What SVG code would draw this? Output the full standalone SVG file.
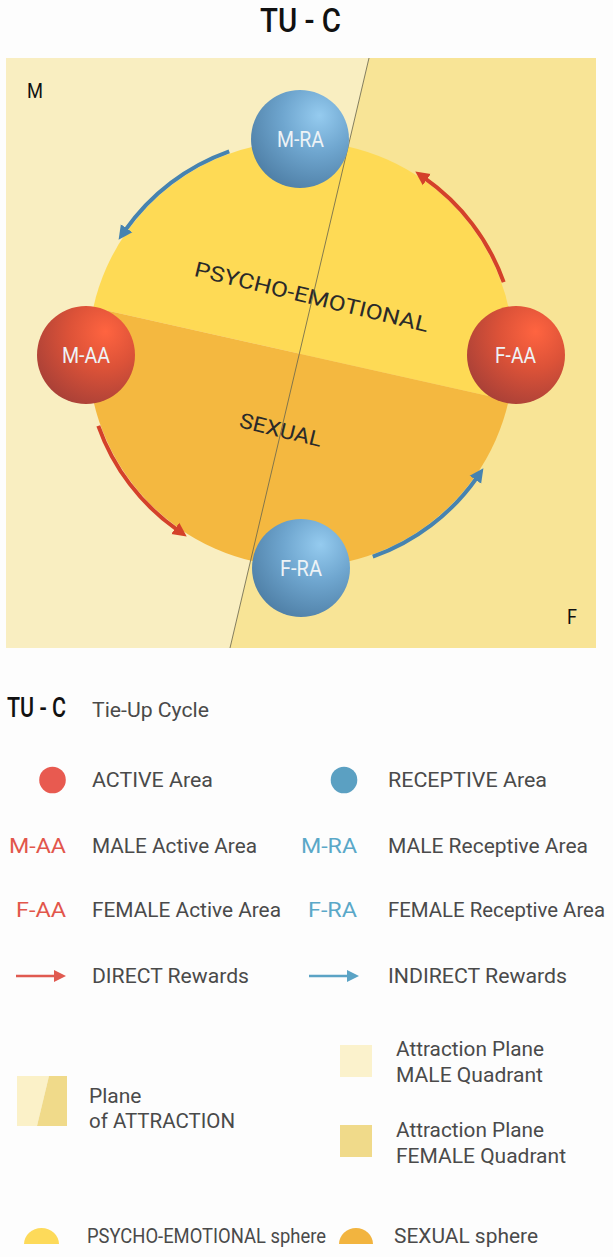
<svg xmlns="http://www.w3.org/2000/svg" width="613" height="1257" viewBox="0 0 613 1257">
<defs>
<radialGradient id="gBlue" cx="0.66" cy="0.3" r="0.8" fx="0.7" fy="0.26">
<stop offset="0" stop-color="#95CBEF"/>
<stop offset="0.45" stop-color="#6FA6CF"/>
<stop offset="1" stop-color="#4C7CA3"/>
</radialGradient>
<radialGradient id="gRed" cx="0.66" cy="0.3" r="0.8" fx="0.7" fy="0.26">
<stop offset="0" stop-color="#FF6440"/>
<stop offset="0.45" stop-color="#DC5238"/>
<stop offset="1" stop-color="#A53F37"/>
</radialGradient>
<marker id="mRed" markerUnits="userSpaceOnUse" markerWidth="16" markerHeight="16" refX="3" refY="7" orient="auto" viewBox="0 0 16 14">
<path d="M0,0 L14,7 L0,14 z" fill="#D4412A"/>
</marker>
<marker id="mBlue" markerUnits="userSpaceOnUse" markerWidth="16" markerHeight="16" refX="3" refY="7" orient="auto" viewBox="0 0 16 14">
<path d="M0,0 L14,7 L0,14 z" fill="#4683B0"/>
</marker>
<style>
.t{font-family:Roboto,"Liberation Sans",sans-serif}
.lg{font-family:Roboto,"Liberation Sans",sans-serif;font-size:21px;fill:#4a4a4a}
.nl{font-family:Roboto,"Liberation Sans",sans-serif;font-size:22px;fill:#EEF3F6;text-anchor:middle}
.arcR{fill:none;stroke:#D4412A;stroke-width:4;marker-end:url(#mRed)}
.arcB{fill:none;stroke:#4683B0;stroke-width:4;marker-end:url(#mBlue)}
.redT{fill:#E2564B}
.bluT{fill:#5AA8C8}
</style>
</defs>
<rect width="613" height="1257" fill="#FDFDFD"/>
<text class="t" x="300.5" y="32" font-size="34" font-weight="500" fill="#111" text-anchor="middle" textLength="81" lengthAdjust="spacingAndGlyphs">TU - C</text>

<g id="plane">
<polygon points="6,58 369,58 230,648 6,648" fill="#F9EEC1"/>
<polygon points="369,58 596,58 596,648 230,648" fill="#F8E496"/>
<text class="t" x="27" y="98" font-size="21" fill="#111" textLength="16" lengthAdjust="spacingAndGlyphs">M</text>
<text class="t" x="567" y="624" font-size="21" fill="#111" textLength="10" lengthAdjust="spacingAndGlyphs">F</text>
</g>

<g id="spheres">
<path d="M93.3,307.4 A210,210 0 0 1 508.7,400.6 Z" fill="#FEDA55" transform="rotate(0)"/>
<path d="M508.7,400.6 A210,210 0 0 1 93.3,307.4 Z" fill="#F4B840"/>
<text class="t" x="310" y="304" font-size="21" fill="#2a2a2a" text-anchor="middle" textLength="240" lengthAdjust="spacingAndGlyphs" transform="rotate(13.6 310 304)">PSYCHO-EMOTIONAL</text>
<text class="t" x="279" y="437" font-size="21" fill="#2a2a2a" text-anchor="middle" textLength="84" lengthAdjust="spacingAndGlyphs" transform="rotate(13.6 279 437)">SEXUAL</text>
</g>

<line x1="369" y1="58" x2="230" y2="648" stroke="#6E6A4E" stroke-width="1" stroke-opacity="0.85"/>

<g id="connectors">
<path class="arcB" d="M229.2,151.3 A215,215 0 0 0 124.9,230.7"/>
<path class="arcR" d="M98.3,425.8 A215,215 0 0 0 177.7,530.1"/>
<path class="arcB" d="M372.8,556.7 A215,215 0 0 0 477.1,477.3"/>
<path class="arcR" d="M503.7,282.2 A215,215 0 0 0 424.3,177.9"/>
</g>

<g id="node-m-ra">
<circle cx="300" cy="139" r="49" fill="url(#gBlue)"/>
<text class="nl" x="300.5" y="147" textLength="47" lengthAdjust="spacingAndGlyphs">M-RA</text>
</g>
<g id="node-m-aa">
<circle cx="86" cy="355" r="49" fill="url(#gRed)"/>
<text class="nl" x="86" y="363" textLength="48" lengthAdjust="spacingAndGlyphs">M-AA</text>
</g>
<g id="node-f-aa">
<circle cx="516" cy="355" r="49" fill="url(#gRed)"/>
<text class="nl" x="515.5" y="363" textLength="41" lengthAdjust="spacingAndGlyphs">F-AA</text>
</g>
<g id="node-f-ra">
<circle cx="301" cy="568" r="49" fill="url(#gBlue)"/>
<text class="nl" x="301" y="576" textLength="42" lengthAdjust="spacingAndGlyphs">F-RA</text>
</g>

<g id="legend">
<text class="t" x="7" y="717" font-size="28" font-weight="500" fill="#111" textLength="59" lengthAdjust="spacingAndGlyphs">TU - C</text>
<text class="lg" x="92" y="717" font-size="19" textLength="117" lengthAdjust="spacingAndGlyphs">Tie-Up Cycle</text>

<circle cx="52.5" cy="780" r="13.3" fill="#E85A50"/>
<text class="lg" x="92" y="787" textLength="121" lengthAdjust="spacingAndGlyphs">ACTIVE Area</text>
<circle cx="344" cy="780" r="13.3" fill="#5BA0C2"/>
<text class="lg" x="388" y="787" textLength="159" lengthAdjust="spacingAndGlyphs">RECEPTIVE Area</text>

<text class="lg redT" x="66" y="853" text-anchor="end" textLength="57" lengthAdjust="spacingAndGlyphs">M-AA</text>
<text class="lg" x="92" y="853" textLength="165" lengthAdjust="spacingAndGlyphs">MALE Active Area</text>
<text class="lg bluT" x="357" y="853" text-anchor="end" textLength="56" lengthAdjust="spacingAndGlyphs">M-RA</text>
<text class="lg" x="388" y="853" textLength="200" lengthAdjust="spacingAndGlyphs">MALE Receptive Area</text>

<text class="lg redT" x="66" y="917" text-anchor="end" textLength="50" lengthAdjust="spacingAndGlyphs">F-AA</text>
<text class="lg" x="92" y="917" textLength="189" lengthAdjust="spacingAndGlyphs">FEMALE Active Area</text>
<text class="lg bluT" x="357" y="917" text-anchor="end" textLength="49" lengthAdjust="spacingAndGlyphs">F-RA</text>
<text class="lg" x="388" y="917" textLength="217" lengthAdjust="spacingAndGlyphs">FEMALE Receptive Area</text>

<line x1="16" y1="976" x2="56" y2="976" stroke="#E05A50" stroke-width="2.5"/>
<path d="M54,970 L66,976 L54,982 z" fill="#E05A50"/>
<text class="lg" x="92" y="983" textLength="157" lengthAdjust="spacingAndGlyphs">DIRECT Rewards</text>
<line x1="309" y1="976" x2="349" y2="976" stroke="#5BA3C5" stroke-width="2.5"/>
<path d="M347,970 L359,976 L347,982 z" fill="#5BA3C5"/>
<text class="lg" x="388" y="983" textLength="179" lengthAdjust="spacingAndGlyphs">INDIRECT Rewards</text>

<polygon points="17,1076 49,1076 37,1126 17,1126" fill="#FBF1C8"/>
<polygon points="49,1076 67,1076 67,1126 37,1126" fill="#F0DA8A"/>
<text class="lg" x="89" y="1103">Plane</text>
<text class="lg" x="89" y="1128" textLength="146" lengthAdjust="spacingAndGlyphs">of ATTRACTION</text>

<rect x="340" y="1045" width="32" height="32" fill="#FBF2CC"/>
<text class="lg" x="396" y="1056" textLength="148" lengthAdjust="spacingAndGlyphs">Attraction Plane</text>
<text class="lg" x="396" y="1082" textLength="147" lengthAdjust="spacingAndGlyphs">MALE Quadrant</text>
<rect x="340" y="1125" width="32" height="32" fill="#F0DA8A"/>
<text class="lg" x="396" y="1137" textLength="148" lengthAdjust="spacingAndGlyphs">Attraction Plane</text>
<text class="lg" x="396" y="1163" textLength="170" lengthAdjust="spacingAndGlyphs">FEMALE Quadrant</text>

<path d="M24,1244 A17.5,16 0 0 1 59,1244 Z" fill="#FDDA5A"/>
<text class="lg" x="87" y="1243" font-size="18" textLength="239" lengthAdjust="spacingAndGlyphs">PSYCHO-EMOTIONAL sphere</text>
<path d="M339,1244 A17,16 0 0 1 373,1244 Z" fill="#F2B43F"/>
<text class="lg" x="394" y="1243" textLength="144" lengthAdjust="spacingAndGlyphs">SEXUAL sphere</text>
</g>
</svg>
